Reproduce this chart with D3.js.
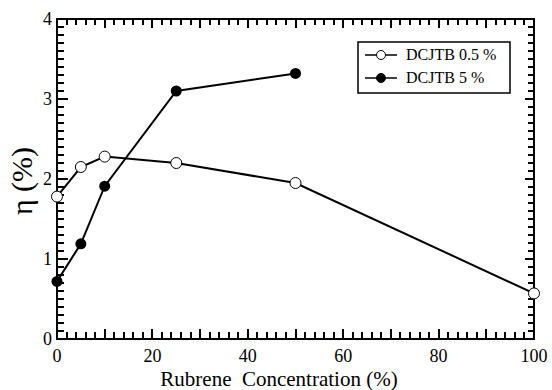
<!DOCTYPE html>
<html>
<head>
<meta charset="utf-8">
<script src="https://cdn.jsdelivr.net/npm/d3@7"></script>
<style>
  body { margin: 0; background: #fff; }
</style>
</head>
<body>
<div id="chart"></div>
<script>
const conc = [0, 5, 10, 25, 50, 100];
const eta05 = [1.78, 2.15, 2.28, 2.2, 1.95, 0.57];
const conc5 = [0, 5, 10, 25, 50];
const eta5 = [0.72, 1.19, 1.91, 3.1, 3.32];
const seriesNames = ["DCJTB 0.5 %", "DCJTB 5 %"];
const xTicks = [0, 20, 40, 60, 80, 100];
const yTicks = [0, 1, 2, 3, 4];

const width = 552, height = 390;
const plotL = 57, plotR = 534, plotT = 19, plotB = 339;
const serif = "'Liberation Serif', 'Times New Roman', Times, serif";

const svg = d3.select("#chart").append("svg")
  .attr("width", width).attr("height", height)
  .attr("font-family", serif);

const x = d3.scaleLinear().domain([0, 100]).range([plotL, plotR]);
const y = d3.scaleLinear().domain([0, 4]).range([plotB, plotT]);

svg.append("rect").attr("x", plotL).attr("y", plotT)
  .attr("width", plotR - plotL).attr("height", plotB - plotT)
  .attr("fill", "none").attr("stroke", "#000").attr("stroke-width", 2);

// inward ticks on all four sides as one path
const xAll = d3.range(0, 101, 2);
const yAll = d3.range(0, 41, 1);
let tickPath = "";
xAll.forEach(d => {
  const big = d % 10 === 0;
  const px = Math.round(x(d));
  tickPath += `M${px},${plotB}V${plotB - (big ? 10 : 7)}`;
  tickPath += `M${px},${plotT}V${plotT + (big ? 9 : 6)}`;
});
yAll.forEach(d => {
  const big = d % 10 === 0;
  const py = Math.round(y(d / 10));
  tickPath += `M${plotL},${py}H${plotL + (big ? 11 : 7)}`;
  tickPath += `M${plotR},${py}H${plotR - (big ? 9 : 6)}`;
});
svg.append("path").attr("class", "ticks").attr("d", tickPath)
  .attr("fill", "none").attr("stroke", "#000").attr("stroke-width", 2)
  .attr("shape-rendering", "crispEdges");

// tick labels
svg.selectAll("text.xl").data(xTicks).enter().append("text").attr("class", "xl")
  .attr("x", d => x(d)).attr("y", 362)
  .attr("text-anchor", "middle").attr("font-size", 18).text(d => d);
svg.selectAll("text.yl").data(yTicks).enter().append("text").attr("class", "yl")
  .attr("x", plotL - 5).attr("y", d => y(d) + 6)
  .attr("text-anchor", "end").attr("font-size", 18).text(d => d);

svg.append("text").attr("x", 279).attr("y", 386)
  .attr("text-anchor", "middle").attr("font-size", 21)
  .style("white-space", "pre").text("Rubrene  Concentration (%)");
svg.append("text").attr("transform", "translate(32,181) rotate(-90)")
  .attr("text-anchor", "middle").attr("font-size", 30).text("η (%)");

const line = d3.line().x(d => x(d[0])).y(d => y(d[1]));
const data05 = conc.map((c, i) => [c, eta05[i]]);
const data5 = conc5.map((c, i) => [c, eta5[i]]);

svg.append("path").datum(data05).attr("d", line)
  .attr("fill", "none").attr("stroke", "#000").attr("stroke-width", 2);
svg.append("path").datum(data5).attr("d", line)
  .attr("fill", "none").attr("stroke", "#000").attr("stroke-width", 2);

svg.selectAll("circle.p05").data(data05).enter().append("circle").attr("class", "p05")
  .attr("cx", d => x(d[0])).attr("cy", d => y(d[1])).attr("r", 5.5)
  .attr("fill", "#fff").attr("stroke", "#000").attr("stroke-width", 1);
svg.selectAll("circle.p5").data(data5).enter().append("circle").attr("class", "p5")
  .attr("cx", d => x(d[0])).attr("cy", d => y(d[1])).attr("r", 5.5)
  .attr("fill", "#000");

// legend
const lg = svg.append("g");
lg.append("rect").attr("x", 358).attr("y", 42).attr("width", 152).attr("height", 51)
  .attr("fill", "#fff").attr("stroke", "#000").attr("stroke-width", 1.5);
seriesNames.forEach((name, i) => {
  const cy = 55 + i * 23;
  lg.append("line").attr("x1", 365).attr("x2", 397).attr("y1", cy).attr("y2", cy)
    .attr("stroke", "#000").attr("stroke-width", 1.5);
  lg.append("circle").attr("cx", 381).attr("cy", cy).attr("r", 4.5)
    .attr("fill", i === 0 ? "#fff" : "#000").attr("stroke", "#000").attr("stroke-width", 1);
  lg.append("text").attr("x", 406).attr("y", cy + 5).attr("font-size", 16).text(name);
});
</script>
</body>
</html>
